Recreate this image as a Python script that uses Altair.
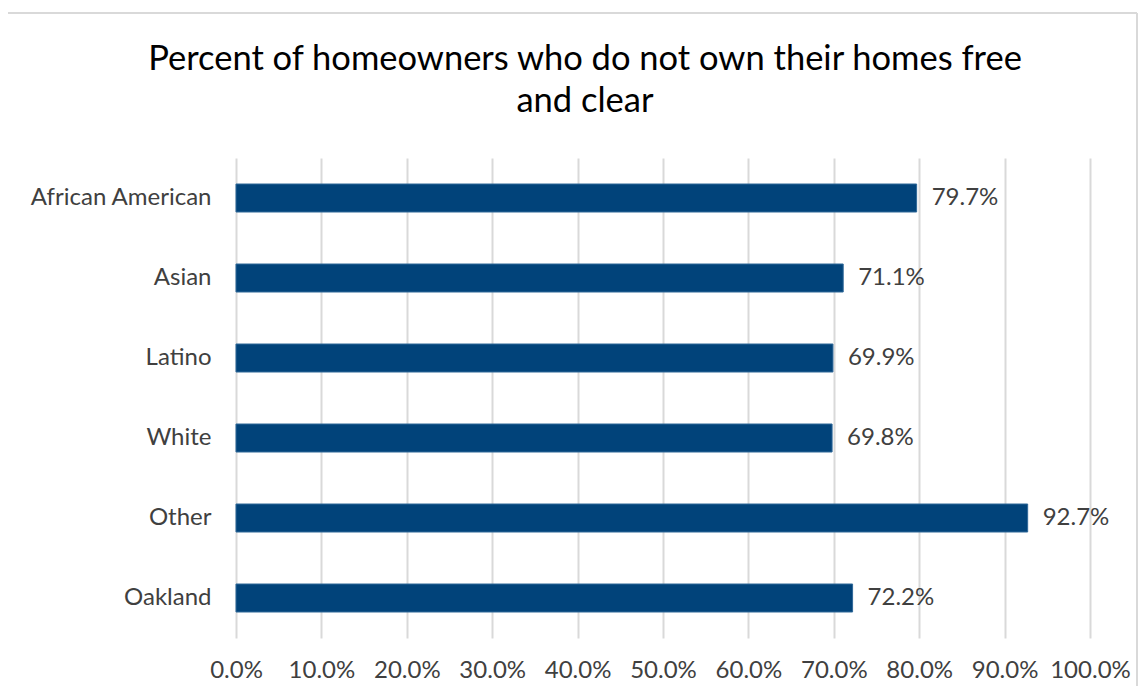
import altair as alt
import pandas as pd

categories = ["African American", "Asian", "Latino", "White", "Other", "Oakland"]
values = [79.7, 71.1, 69.9, 69.8, 92.7, 72.2]
x_ticks = [0, 10, 20, 30, 40, 50, 60, 70, 80, 90, 100]

df = pd.DataFrame({"group": categories, "pct": values})
df["label"] = df["pct"].map(lambda v: f"{v:.1f}%")

FONT = "Lato"
FS = 24

y_enc = alt.Y("group:N", sort=categories, title=None,
              scale=alt.Scale(paddingInner=0.65, paddingOuter=0.325),
              axis=alt.Axis(domain=False, ticks=False, grid=False, labelFontSize=FS,
                            labelColor="#404040", labelPadding=25, labelFont=FONT,
                            labelLimit=400))
x_enc = alt.X("pct:Q", title=None,
              scale=alt.Scale(domain=[0, 100], nice=False),
              axis=alt.Axis(values=x_ticks, labelExpr="format(datum.value, '.1f') + '%'",
                            domain=False, ticks=False, grid=True, gridColor="#d9d9d9",
                            gridWidth=2, labelFontSize=FS, labelColor="#404040",
                            labelPadding=20, labelFont=FONT, labelOverlap=False,
                            labelFlush=False))

bars = alt.Chart(df).mark_bar(color="#01437A", stroke="#2f6898", strokeWidth=1).encode(
    x=x_enc, y=y_enc)

labels = alt.Chart(df).mark_text(align="left", baseline="middle", dx=15, fontSize=FS,
                                 color="#404040", font=FONT).encode(
    x="pct:Q", y=alt.Y("group:N", sort=categories), text="label:N")

border = alt.Chart(df).mark_rule(stroke="#d9d9d9", strokeWidth=2).encode(
    x=alt.value(-230), x2=alt.value(901), y=alt.value(-145))
border_l = alt.Chart(df).mark_rule(stroke="#d9d9d9", strokeWidth=2).encode(
    x=alt.value(-230), y=alt.value(-145), y2=alt.value(560))
border_r = alt.Chart(df).mark_rule(stroke="#d9d9d9", strokeWidth=2).encode(
    x=alt.value(901), y=alt.value(-145), y2=alt.value(560))

chart = alt.layer(border, border_l, border_r, bars, labels).properties(
    width=854, height=480,
    title=alt.TitleParams(["Percent of homeowners who do not own their homes free", "and clear"],
                          anchor="middle", frame="group", dx=-78, fontSize=34.5,
                          fontWeight="normal", color="#000000", font=FONT,
                          lineHeight=42, offset=-134, baseline="alphabetic"),
    padding={"left": 228, "top": 150, "right": 48, "bottom": 48},
    autosize=alt.AutoSizeParams(type="none"),
).configure_view(stroke=None)

chart.save("out.html", embed_options={"renderer": "svg", "actions": False})
